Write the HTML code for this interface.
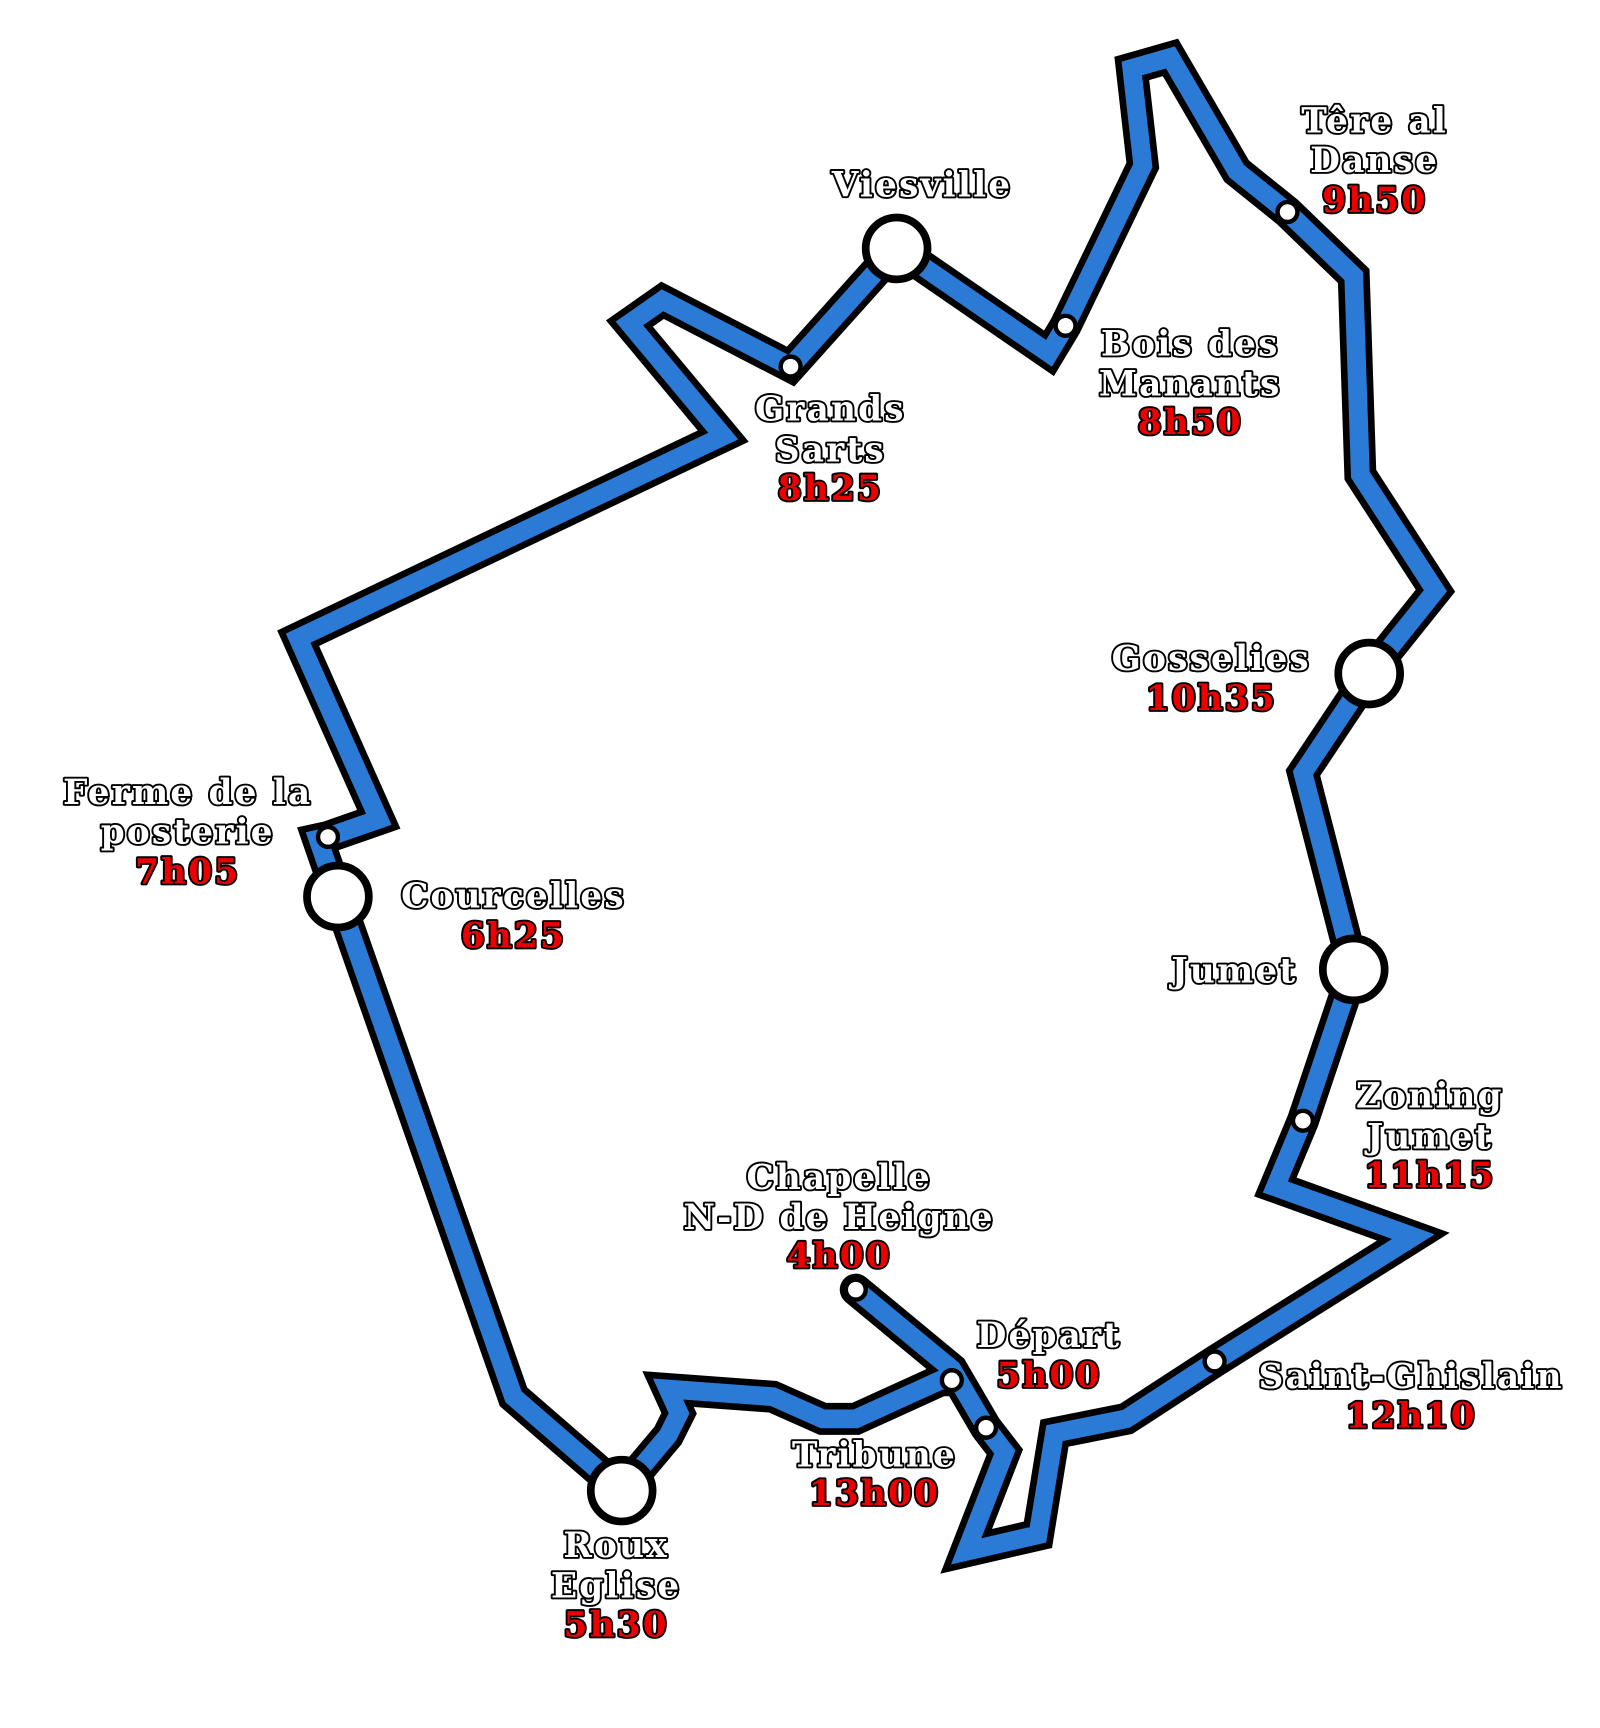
<!DOCTYPE html>
<html><head><meta charset="utf-8"><style>
html,body{margin:0;padding:0;background:#fff;}
svg{display:block;}
text{font-family:"DejaVu Serif","Liberation Serif",serif;font-weight:bold;font-size:31px;text-anchor:middle;paint-order:stroke;stroke:#000;stroke-width:3.5px;stroke-linejoin:round;letter-spacing:2px;}
.n{fill:#fff;}
.t{fill:#e00;}
</style></head><body>
<svg width="1600" height="1728" viewBox="0 0 1449 1565" xmlns="http://www.w3.org/2000/svg">
<defs>
<path id="r" d="M775,1168 L862,1240 L893,1293 L910,1315 L875,1405 L940,1390 L955,1298 L1020,1285 L1100,1233 L1280,1120 L1155,1075 L1180,1015 L1226,878 L1180,700 L1240,610 L1300,535 L1232,430 L1226,250 L1166,192 L1120,155 L1060,52 L1025,62 L1035,150 L965,295 L950,320 L812,225 L716,332 L600,272 L570,293 L655,395 L270,578 L343,742 L297,758 L288,760 L306,812 L465,1265 L563,1350 L605,1300 L615,1280 L605,1258 L700,1265 L745,1285 L775,1285 L852,1250 L862,1250"/>
</defs>
<g fill="none" stroke-linejoin="miter" stroke-linecap="round">
<use href="#r" stroke="#000" stroke-width="29"/>
<use href="#r" stroke="#2b7bd6" stroke-width="17"/>
</g>
<g fill="#fff" stroke="#000">
<circle cx="812" cy="225" r="28" stroke-width="7"/>
<circle cx="1240" cy="610" r="28" stroke-width="7"/>
<circle cx="1226" cy="878" r="28" stroke-width="7"/>
<circle cx="306" cy="812" r="28" stroke-width="7"/>
<circle cx="563" cy="1350" r="28" stroke-width="7"/>
<g stroke-width="4">
<circle cx="1166" cy="192" r="9"/>
<circle cx="965" cy="295" r="9"/>
<circle cx="716" cy="332" r="9"/>
<circle cx="297" cy="758" r="9"/>
<circle cx="1180" cy="1015" r="9"/>
<circle cx="1100" cy="1233" r="9"/>
<circle cx="775" cy="1168" r="9"/>
<circle cx="862" cy="1250" r="9"/>
<circle cx="893" cy="1293" r="9"/>
</g>
</g>
<text class="n" x="835" y="178">Viesville</text>
<text class="n" x="1245" y="120">Têre al</text>
<text class="n" x="1245" y="156">Danse</text>
<text class="t" x="1245" y="192">9h50</text>
<text class="n" x="1078" y="322">Bois des</text>
<text class="n" x="1078" y="358">Manants</text>
<text class="t" x="1078" y="393">8h50</text>
<text class="n" x="752" y="381">Grands</text>
<text class="n" x="752" y="418">Sarts</text>
<text class="t" x="752" y="453">8h25</text>
<text class="n" x="1097" y="607">Gosselies</text>
<text class="t" x="1097" y="643">10h35</text>
<text class="n" x="170" y="728">Ferme de la</text>
<text class="n" x="170" y="764">posterie</text>
<text class="t" x="170" y="800">7h05</text>
<text class="n" x="465" y="822">Courcelles</text>
<text class="t" x="465" y="858">6h25</text>
<text class="n" x="1118" y="890">Jumet</text>
<text class="n" x="1295" y="1003">Zoning</text>
<text class="n" x="1295" y="1040">Jumet</text>
<text class="t" x="1295" y="1075">11h15</text>
<text class="n" x="760" y="1077">Chapelle</text>
<text class="n" x="760" y="1113">N-D de Heigne</text>
<text class="t" x="760" y="1148">4h00</text>
<text class="n" x="950" y="1220">Départ</text>
<text class="t" x="950" y="1256">5h00</text>
<text class="n" x="1278" y="1257">Saint-Ghislain</text>
<text class="t" x="1278" y="1293">12h10</text>
<text class="n" x="792" y="1328">Tribune</text>
<text class="t" x="792" y="1363">13h00</text>
<text class="n" x="558" y="1410">Roux</text>
<text class="n" x="558" y="1447">Eglise</text>
<text class="t" x="558" y="1482">5h30</text>
</svg>
</body></html>
